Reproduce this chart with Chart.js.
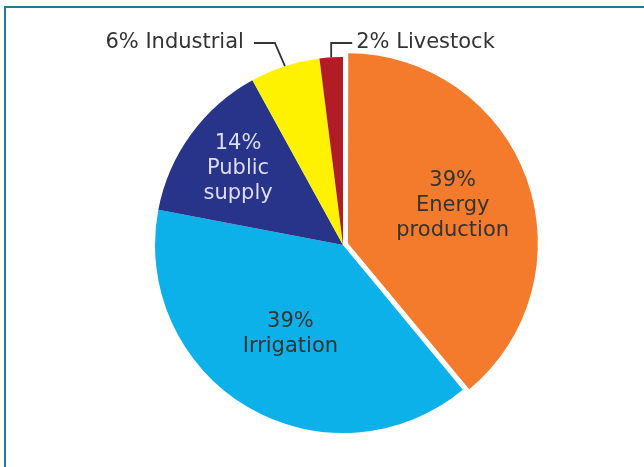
<!DOCTYPE html>
<html>
<head>
<meta charset="utf-8">
<script src="https://cdn.jsdelivr.net/npm/chart.js@4/dist/chart.umd.min.js"></script>
<style>
  html, body { margin: 0; padding: 0; background: #fff; overflow: hidden; }
  #frame { position: absolute; left: 4px; top: 6px; width: 700px; height: 520px; border: 2px solid #1d7c96; }
  #wrap { position: absolute; left: 0; top: 0; width: 644px; height: 467px; }
</style>
</head>
<body>
<div id="frame"></div>
<div id="wrap"><canvas id="waterChart"></canvas></div>
<script>
// water withdrawals by use, percent
var categories = ['Energy production', 'Irrigation', 'Public supply', 'Industrial', 'Livestock'];
var shares = [39, 39, 14, 6, 2];
var sliceColors = ['#f47a2c', '#0db1ea', '#28338a', '#fff200', '#b11c26'];
// chart.js v4 only moves the arc by about a third of this
var sliceOffsets = [21, 0, 0, 0, 0];

// where each label goes: inside (radius fraction) or outside with a leader
var labelSpots = [
    {inside: 0.62, color: '#333333'},
    {inside: 0.55, color: '#333333'},
    {inside: 0.69, color: '#dcdcf2'},
    {side: 'left', color: '#333333'},
    {side: 'right', color: '#333333'}
];

var labelPlugin = {
    id: 'sliceLabels',
    afterDatasetsDraw: function(chart) {
        var ctx = chart.ctx;
        var arcs = chart.getDatasetMeta(0).data;
        ctx.save();
        ctx.font = '21px "DejaVu Sans"';
        ctx.textBaseline = 'middle';
        arcs.forEach(function(arc, i) {
            var p = arc.getProps(['x', 'y', 'startAngle', 'endAngle', 'outerRadius'], true);
            var mid = (p.startAngle + p.endAngle) / 2;
            var spot = labelSpots[i];
            ctx.fillStyle = spot.color;
            if (spot.inside) {
                var r = p.outerRadius * spot.inside;
                var cx = p.x + Math.cos(mid) * r;
                var cy = p.y + Math.sin(mid) * r;
                var lines = [shares[i] + '%'].concat(categories[i].split(' '));
                var lh = 25;
                ctx.textAlign = 'center';
                lines.forEach(function(t, k) {
                    ctx.fillText(t, cx, cy + (k - (lines.length - 1) / 2) * lh);
                });
            } else {
                var ex = p.x + Math.cos(mid) * p.outerRadius;
                var ey = p.y + Math.sin(mid) * p.outerRadius;
                var ly = p.y - p.outerRadius - 14;
                var text = shares[i] + '% ' + categories[i];
                ctx.strokeStyle = '#333333';
                ctx.lineWidth = 1.8;
                ctx.beginPath();
                ctx.moveTo(ex, ey);
                if (spot.side === 'left') {
                    ctx.lineTo(ex - 10, ly);
                    ctx.lineTo(ex - 31, ly);
                    ctx.stroke();
                    ctx.textAlign = 'right';
                    ctx.fillText(text, ex - 41, ly);
                } else {
                    ctx.lineTo(ex, ly);
                    ctx.lineTo(ex + 21, ly);
                    ctx.stroke();
                    ctx.textAlign = 'left';
                    ctx.fillText(text, ex + 25, ly);
                }
            }
        });
        ctx.restore();
    }
};

var ctx = document.getElementById('waterChart').getContext('2d');
var waterChart = new Chart(ctx, {
    type: 'pie',
    data: {
        labels: categories,
        datasets: [{
            data: shares,
            backgroundColor: sliceColors,
            borderWidth: 0,
            offset: sliceOffsets
        }]
    },
    options: {
        responsive: true,
        maintainAspectRatio: false,
        animation: false,
        radius: 188,
        layout: {
            padding: {left: 42, right: 0, top: 23, bottom: 0}
        },
        plugins: {
            legend: {display: false},
            tooltip: {enabled: false}
        }
    },
    plugins: [labelPlugin]
});
</script>
</body>
</html>
